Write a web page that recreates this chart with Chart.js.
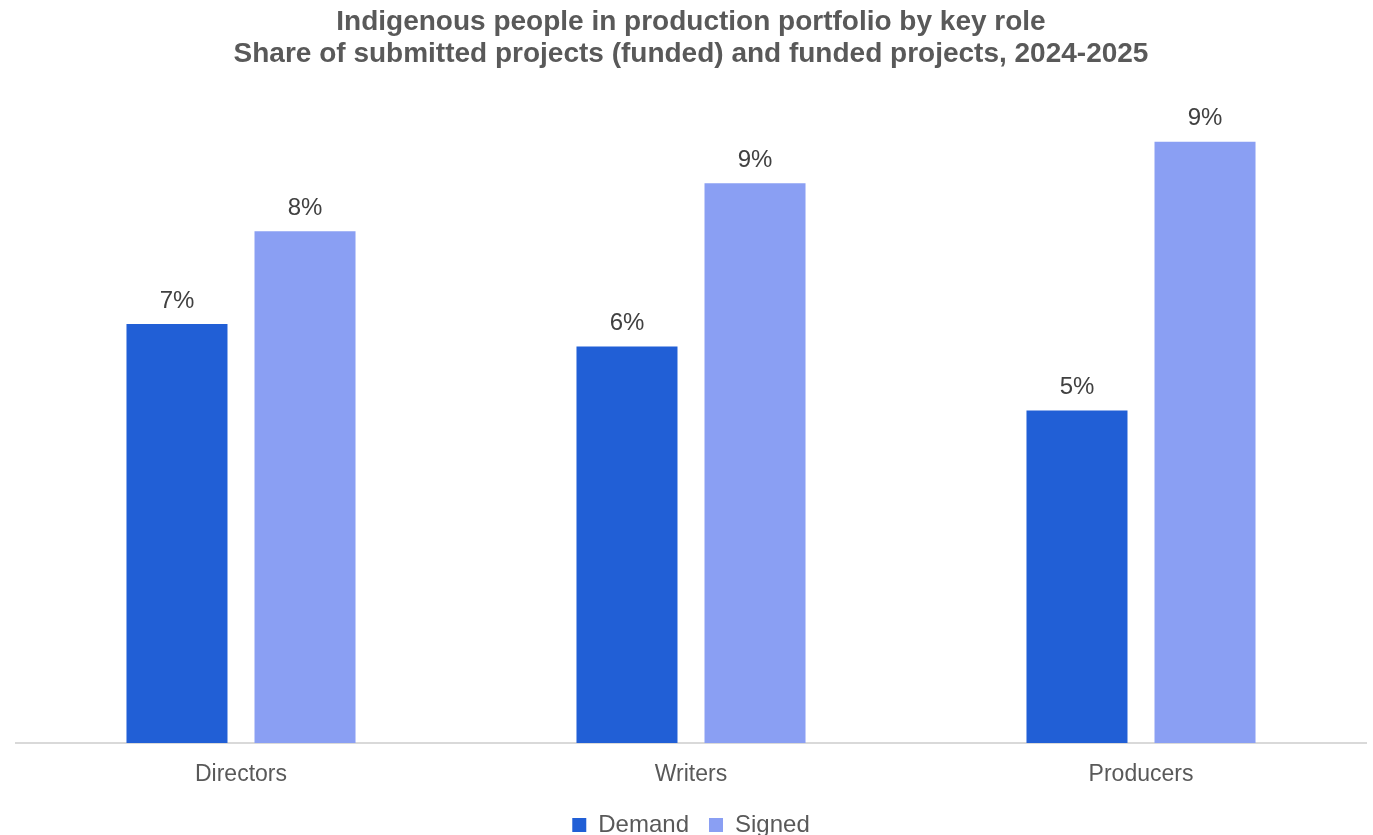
<!DOCTYPE html>
<html>
<head>
<meta charset="utf-8">
<script src="https://cdn.jsdelivr.net/npm/chart.js@4/dist/chart.umd.min.js"></script>
<style>
html,body{margin:0;padding:0;background:#fff;}
#wrap{width:1373px;height:835px;position:relative;}
</style>
</head>
<body>
<div id="wrap"><canvas id="c"></canvas></div>
<script>
const categories = ["Directors", "Writers", "Producers"];
const demandValues = [6.55, 6.2, 5.2];
const signedValues = [8.0, 8.75, 9.4];
const seriesNames = ["Demand", "Signed"];
const titleLines = ["Indigenous people in production portfolio by key role", "Share of submitted projects (funded) and funded projects, 2024-2025"];

const labelPlugin = {
  id: 'barLabels',
  afterDatasetsDraw(chart) {
    const ctx = chart.ctx;
    ctx.save();
    ctx.font = '24px "Liberation Sans", Arial, sans-serif';
    ctx.fillStyle = '#404040';
    ctx.textAlign = 'center';
    ctx.textBaseline = 'bottom';
    chart.data.datasets.forEach((ds, i) => {
      const meta = chart.getDatasetMeta(i);
      meta.data.forEach((bar, j) => {
        ctx.fillText(Math.round(ds.data[j]) + '%', bar.x, bar.y - 11);
      });
    });
    ctx.restore();
  }
};

new Chart(document.getElementById('c'), {
  type: 'bar',
  data: {
    labels: categories,
    datasets: [
      { label: seriesNames[0], data: demandValues, backgroundColor: '#215FD6', categoryPercentage: 0.569, barPercentage: 0.789 },
      { label: seriesNames[1], data: signedValues, backgroundColor: '#8A9FF3', categoryPercentage: 0.569, barPercentage: 0.789 }
    ]
  },
  options: {
    responsive: true,
    maintainAspectRatio: false,
    animation: false,
    layout: { padding: { left: 16, right: 7, top: 0, bottom: -12 } },
    plugins: {
      title: {
        display: true,
        text: titleLines,
        color: '#595959',
        font: { family: '"Liberation Sans", Arial, sans-serif', size: 28, weight: 'bold', lineHeight: 1.15 },
        padding: { top: 6, bottom: 33 }
      },
      legend: {
        position: 'bottom',
        labels: {
          color: '#595959',
          font: { family: '"Liberation Sans", Arial, sans-serif', size: 24 },
          boxWidth: 14, boxHeight: 14, padding: 20
        }
      },
      tooltip: { enabled: false }
    },
    scales: {
      x: {
        grid: { display: false, drawTicks: false },
        border: { display: true, color: '#D9D9D9', width: 2 },
        ticks: { color: '#595959', font: { family: '"Liberation Sans", Arial, sans-serif', size: 23 }, padding: 18 },
        afterFit(scale) { scale.height = 50; }
      },
      y: {
        display: false,
        min: 0, max: 10
      }
    }
  },
  plugins: [labelPlugin]
});
</script>
</body>
</html>
